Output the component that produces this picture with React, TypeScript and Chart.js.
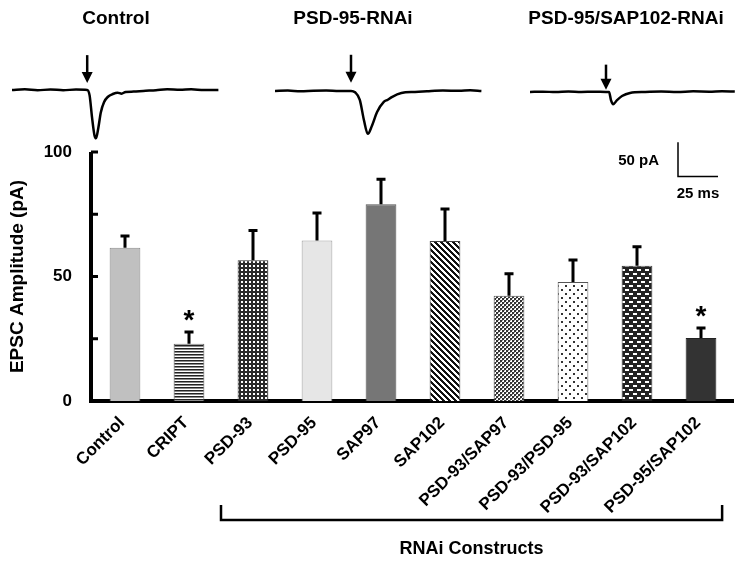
import React, { useEffect, useRef } from 'react';
import { Chart, registerables } from 'chart.js';

Chart.register(...registerables);

const FONT = '"Liberation Sans", Arial, Helvetica, sans-serif';

// ---------- Bar chart data ----------
const CATEGORIES = [
  'Control', 'CRIPT', 'PSD-93', 'PSD-95', 'SAP97', 'SAP102',
  'PSD-93/SAP97', 'PSD-93/PSD-95', 'PSD-93/SAP102', 'PSD-95/SAP102',
];
const MEANS = [61.5, 23.0, 56.5, 64.5, 79.0, 64.3, 42.3, 47.8, 54.3, 25.3];
const SEMS = [5.2, 5.1, 12.4, 11.4, 10.5, 13.2, 9.2, 9.2, 8.0, 4.4];
const SIGNIFICANT = [false, true, false, false, false, false, false, false, false, true];
const Y_TICKS = [0, 25, 50, 75, 100];
const Y_TICK_LABELS = ['0', '', '50', '', '100'];
const Y_TITLE = 'EPSC Amplitude (pA)';
const BRACKET_FROM = 1.5; // category index (fractional)
const BRACKET_TO = 9.33;
const BRACKET_LABEL = 'RNAi Constructs';

// ---------- Trace data (time in ms, current in pA) ----------
const TRACE_TITLES = ['Control', 'PSD-95-RNAi', 'PSD-95/SAP102-RNAi'];
const CONTROL_T = [0, 8, 16, 24, 32, 40, 47, 48.5, 50, 51.5, 52.5, 54, 55.5, 57.5, 60, 63, 66, 68.5, 71, 76, 82, 90, 97, 105, 112, 120, 129];
const CONTROL_I = [0, 0.8, -0.5, 0.6, -0.4, 0.5, 0, -8, -40, -66, -71, -55, -33, -18, -10, -6, -4, -5.5, -3, -2.5, -1.5, -0.5, 0.8, 0.3, 0.8, -0.3, 0];
const PSD95_T = [0, 8, 16, 24, 32, 40, 47.5, 50, 53, 55.6, 58, 60.6, 63.8, 68, 70.5, 73, 79, 87.5, 95, 105, 115, 122, 129];
const PSD95_I = [0, 0.5, -0.5, 0.3, 0.6, -0.3, 0, -2, -13, -43, -63, -51, -31, -16, -13, -9, -3, -1.5, -0.5, 0.5, 0.3, 0.8, 0];
const DOUBLE_T = [0, 8, 16, 24, 32, 40, 47.5, 49.4, 50.6, 52, 54.4, 57.5, 62.5, 72, 82, 92, 102, 112, 120, 128];
const DOUBLE_I = [0, 0.4, -0.3, 0.5, 0, 0.4, 0, 0, -12, -18, -12, -6, -1.5, 0, 0.6, 0, 0.8, 0.4, 0.9, 0.5];
const STIM_MS = [47, 47.5, 47.5];
const ARROW_TOP_PA = [51, 53, 40];
const ARROW_TIP_PA = [10, 12, 3];
const SCALE_BAR_MS = 25;
const SCALE_BAR_PA = 50;
const SCALE_BAR_T0 = 92.5;
const SCALE_BAR_I0 = -124;
const SCALE_BAR_LABELS = ['50 pA', '25 ms'];

// ---------- Layout / style constants ----------
const TRACE_MS_MAX = 130;
const TRACE_PA_MIN = -160;
const TRACE_PA_MAX = 60;
const TRACE_W = 208;
const TRACE_H = 150;
const TRACE_LEFT = [12, 275, 530];
const TRACE_TOP = [49, 50, 51];
const TITLE_CENTER = [116, 353, 626];

type FillKind = string;
const BAR_FILLS: FillKind[] = ['solid:#c0c0c0', 'hstripes', 'dotgrid', 'solid:#e6e6e6', 'solid:#767676', 'diag', 'checker', 'sparse', 'bricks', 'solid:#333333'];
const BAR_BORDERS = ['#8a8a8a', '#555555', '#333333', '#a0a0a0', '#555555', '#444444', '#555555', '#555555', '#333333', '#222222'];

function makeTile(w: number, h: number, bg: string, draw: (ctx: CanvasRenderingContext2D) => void) {
  const c = document.createElement('canvas');
  c.width = w; c.height = h;
  const ctx = c.getContext('2d')!;
  ctx.fillStyle = bg; ctx.fillRect(0, 0, w, h);
  draw(ctx);
  return ctx.createPattern(c, 'repeat')!;
}

function makeFill(kind: FillKind): string | CanvasPattern {
  if (kind.startsWith('solid:')) return kind.slice(6);
  switch (kind) {
    case 'hstripes':
      return makeTile(4, 3, '#ffffff', (ctx) => {
        ctx.fillStyle = '#222'; ctx.fillRect(0, 0, 4, 1);
        ctx.fillStyle = '#8a8a8a'; ctx.fillRect(0, 1, 4, 1);
      });
    case 'dotgrid':
      return makeTile(4, 4, '#2a2a2a', (ctx) => {
        ctx.fillStyle = '#ffffff'; ctx.fillRect(1, 1, 2, 2);
      });
    case 'diag':
      return makeTile(6, 6, '#ffffff', (ctx) => {
        ctx.fillStyle = '#111';
        for (let y = 0; y < 6; y++) for (let x = 0; x < 6; x++) {
          if (((x - y + 6) % 6) < 3) ctx.fillRect(x, y, 1, 1);
        }
      });
    case 'checker':
      return makeTile(4, 4, '#ffffff', (ctx) => {
        ctx.fillStyle = '#333'; ctx.fillRect(0, 0, 2, 2); ctx.fillRect(2, 2, 2, 2);
        ctx.fillStyle = '#999'; ctx.fillRect(2, 0, 1, 1); ctx.fillRect(0, 2, 1, 1);
      });
    case 'sparse':
      return makeTile(8, 8, '#ffffff', (ctx) => {
        ctx.fillStyle = '#333'; ctx.fillRect(1, 1, 2, 2); ctx.fillRect(5, 5, 2, 2);
      });
    case 'bricks':
      return makeTile(8, 8, '#222222', (ctx) => {
        ctx.fillStyle = '#ffffff';
        ctx.fillRect(1, 1, 4, 2); ctx.fillRect(5, 5, 3, 2); ctx.fillRect(0, 5, 1, 2);
      });
  }
  return '#999';
}

const barDecorPlugin = {
  id: 'barDecor',
  afterDatasetsDraw(chart: any) {
    const ctx: CanvasRenderingContext2D = chart.ctx;
    const x = chart.scales.x;
    const y = chart.scales.y;
    const area = chart.chartArea;
    ctx.save();
    // error bars (upper only)
    ctx.strokeStyle = '#000';
    ctx.lineWidth = 3;
    ctx.lineCap = 'butt';
    MEANS.forEach((m, i) => {
      const cx = x.getPixelForValue(i);
      const yb = y.getPixelForValue(m);
      const yt = y.getPixelForValue(m + SEMS[i]);
      ctx.beginPath();
      ctx.moveTo(cx, yb); ctx.lineTo(cx, yt);
      ctx.moveTo(cx - 4.5, yt + 1); ctx.lineTo(cx + 4.5, yt + 1);
      ctx.stroke();
    });
    // significance asterisks
    ctx.fillStyle = '#000';
    ctx.font = `bold 28px ${FONT}`;
    ctx.textAlign = 'center';
    ctx.textBaseline = 'middle';
    SIGNIFICANT.forEach((s, i) => {
      if (!s) return;
      const cx = x.getPixelForValue(i);
      const yt = y.getPixelForValue(MEANS[i] + SEMS[i]);
      ctx.fillText('*', cx, yt - 10);
    });
    // y axis line and inward tick marks
    const ax = area.left - 2;
    ctx.lineWidth = 4;
    ctx.beginPath();
    ctx.moveTo(ax, area.top); ctx.lineTo(ax, area.bottom + 2);
    ctx.stroke();
    ctx.lineWidth = 3;
    Y_TICKS.forEach((v) => {
      const py = y.getPixelForValue(v);
      ctx.beginPath();
      ctx.moveTo(ax, py); ctx.lineTo(ax + 7, py);
      ctx.stroke();
    });
    // bracket
    const bl = x.getPixelForValue(BRACKET_FROM);
    const br = x.getPixelForValue(BRACKET_TO);
    const by1 = area.bottom + 104;
    const by2 = area.bottom + 119;
    ctx.lineWidth = 2.5;
    ctx.beginPath();
    ctx.moveTo(bl, by1); ctx.lineTo(bl, by2); ctx.lineTo(br, by2); ctx.lineTo(br, by1);
    ctx.stroke();
    ctx.font = `bold 18px ${FONT}`;
    ctx.fillText(BRACKET_LABEL, (bl + br) / 2, area.bottom + 148);
    ctx.restore();
  },
};

function makeTracePlugin(k: number, withScale: boolean) {
  return {
    id: 'traceDecor' + k,
    afterDatasetsDraw(chart: any) {
      const ctx: CanvasRenderingContext2D = chart.ctx;
      const x = chart.scales.x;
      const y = chart.scales.y;
      ctx.save();
      ctx.strokeStyle = '#000';
      ctx.fillStyle = '#000';
      // stimulus arrow
      const ax = x.getPixelForValue(STIM_MS[k]);
      const top = y.getPixelForValue(ARROW_TOP_PA[k]);
      const tip = y.getPixelForValue(ARROW_TIP_PA[k]);
      ctx.lineWidth = 2.5;
      ctx.beginPath();
      ctx.moveTo(ax, top); ctx.lineTo(ax, tip - 8);
      ctx.stroke();
      ctx.beginPath();
      ctx.moveTo(ax - 5.5, tip - 11); ctx.lineTo(ax + 5.5, tip - 11); ctx.lineTo(ax, tip);
      ctx.closePath();
      ctx.fill();
      if (withScale) {
        const x0 = x.getPixelForValue(SCALE_BAR_T0);
        const x1 = x.getPixelForValue(SCALE_BAR_T0 + SCALE_BAR_MS);
        const y0 = y.getPixelForValue(SCALE_BAR_I0);
        const y1 = y.getPixelForValue(SCALE_BAR_I0 + SCALE_BAR_PA);
        ctx.lineWidth = 1.5;
        ctx.beginPath();
        ctx.moveTo(x0, y1); ctx.lineTo(x0, y0); ctx.lineTo(x1, y0);
        ctx.stroke();
        ctx.font = `bold 15px ${FONT}`;
        ctx.textBaseline = 'middle';
        ctx.textAlign = 'right';
        ctx.fillText(SCALE_BAR_LABELS[0], x0 - 19, (y0 + y1) / 2 + 1);
        ctx.textAlign = 'center';
        ctx.fillText(SCALE_BAR_LABELS[1], (x0 + x1) / 2, y0 + 17);
      }
      ctx.restore();
    },
  };
}

const TRACES = [
  { t: CONTROL_T, i: CONTROL_I },
  { t: PSD95_T, i: PSD95_I },
  { t: DOUBLE_T, i: DOUBLE_I },
];

export default function App() {
  const mainRef = useRef<HTMLCanvasElement | null>(null);
  const traceRefs = useRef<(HTMLCanvasElement | null)[]>([]);

  useEffect(() => {
    const charts: Chart[] = [];
    const fills = BAR_FILLS.map(makeFill);
    if (mainRef.current) {
      charts.push(new Chart(mainRef.current, {
        type: 'bar',
        data: {
          labels: CATEGORIES,
          datasets: [{
            data: MEANS,
            backgroundColor: fills as any,
            borderColor: BAR_BORDERS,
            borderWidth: 1,
            barPercentage: 0.48,
            categoryPercentage: 1,
          }],
        },
        options: {
          animation: false,
          responsive: false,
          events: [],
          layout: { padding: { top: 152, right: 12, left: 0, bottom: 0 } },
          plugins: { legend: { display: false }, tooltip: { enabled: false } },
          scales: {
            x: {
              grid: { display: false, drawTicks: false },
              border: { display: true, color: '#000', width: 4 },
              ticks: {
                color: '#000',
                font: { family: FONT, size: 17, weight: 'bold' },
                minRotation: 45,
                maxRotation: 45,
                autoSkip: false,
                padding: 12,
                labelOffset: -3,
              },
              afterFit: (s: any) => { s.height = 163; },
            },
            y: {
              min: 0,
              max: 100,
              afterBuildTicks: (s: any) => { s.ticks = Y_TICKS.map((v) => ({ value: v })); },
              grid: { display: false, drawTicks: false },
              border: { display: false },
              ticks: {
                color: '#000',
                font: { family: FONT, size: 17, weight: 'bold' },
                padding: 21,
                callback: (_v: any, idx: number) => Y_TICK_LABELS[idx],
              },
              title: {
                display: true,
                text: Y_TITLE,
                color: '#000',
                font: { family: FONT, size: 19, weight: 'bold' },
                padding: { top: 6, bottom: 0 },
              },
              afterFit: (s: any) => { s.width = 93; },
            },
          },
        } as any,
        plugins: [barDecorPlugin],
      }));
    }
    TRACES.forEach((tr, k) => {
      const cv = traceRefs.current[k];
      if (!cv) return;
      charts.push(new Chart(cv, {
        type: 'line',
        data: {
          datasets: [{
            data: tr.t.map((t, j) => ({ x: t, y: tr.i[j] })),
            borderColor: '#000',
            borderWidth: 2.5,
            pointRadius: 0,
            cubicInterpolationMode: 'monotone',
            fill: false,
            clip: false as any,
          }],
        },
        options: {
          animation: false,
          responsive: false,
          events: [],
          layout: { padding: 0 },
          plugins: { legend: { display: false }, tooltip: { enabled: false } },
          scales: {
            x: { type: 'linear', min: 0, max: TRACE_MS_MAX, display: false },
            y: { min: TRACE_PA_MIN, max: TRACE_PA_MAX, display: false },
          },
        } as any,
        plugins: [makeTracePlugin(k, k === 2)],
      }));
    });
    return () => charts.forEach((c) => c.destroy());
  }, []);

  return (
    <div style={{ position: 'fixed', left: 0, top: 0, width: 745, height: 564, background: '#fff', overflow: 'hidden' }}>
      <canvas ref={mainRef} width={745} height={564} style={{ position: 'absolute', left: 0, top: 0, width: 745, height: 564 }} />
      {TRACES.map((_, k) => (
        <canvas
          key={k}
          ref={(el) => { traceRefs.current[k] = el; }}
          width={TRACE_W}
          height={TRACE_H}
          style={{ position: 'absolute', left: TRACE_LEFT[k], top: TRACE_TOP[k], width: TRACE_W, height: TRACE_H }}
        />
      ))}
      {TRACE_TITLES.map((t, k) => (
        <div
          key={'t' + k}
          style={{
            position: 'absolute', left: TITLE_CENTER[k] - 150, top: 7, width: 300, textAlign: 'center',
            fontFamily: FONT, fontWeight: 'bold', fontSize: 19, lineHeight: '22px', color: '#000',
          }}
        >
          {t}
        </div>
      ))}
    </div>
  );
}
